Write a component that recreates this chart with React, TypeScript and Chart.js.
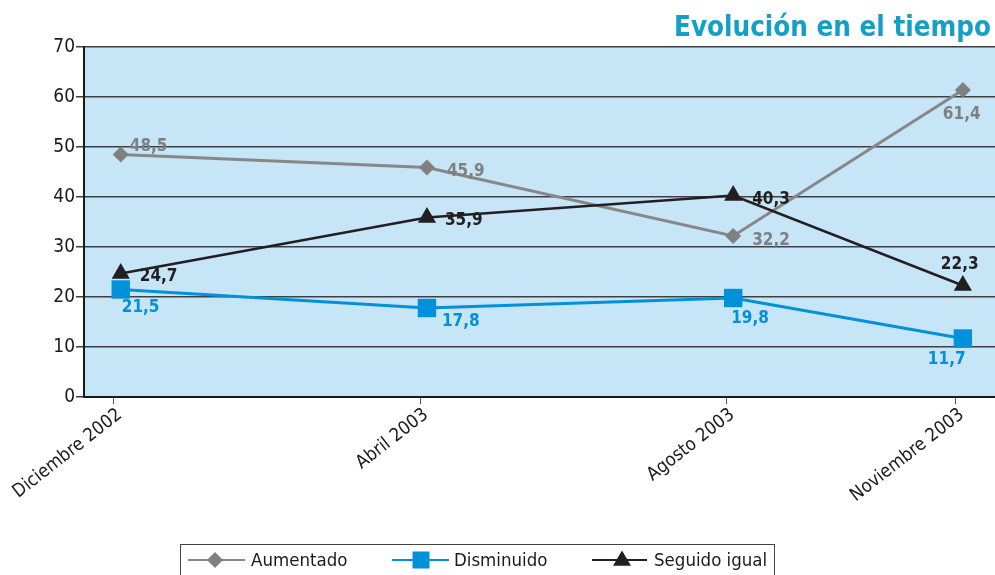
import React, { useEffect, useRef } from "react";
import { Chart, registerables } from "chart.js";

Chart.register(...registerables);

// ---- data ----
const CATEGORIES = ["Diciembre 2002", "Abril 2003", "Agosto 2003", "Noviembre 2003"];
const MONTH_INDEX = [0, 4, 8, 11]; // months since Dec 2002
const AUMENTADO = [48.5, 45.9, 32.2, 61.4];
const DISMINUIDO = [21.5, 17.8, 19.8, 11.7];
const SEGUIDO_IGUAL = [24.7, 35.9, 40.3, 22.3];
const Y_TICKS = [0, 10, 20, 30, 40, 50, 60, 70];
const SERIES_NAMES = ["Aumentado", "Disminuido", "Seguido igual"];
const TITLE = "Evolución en el tiempo";

// ---- styles ----
const GRAY = "#878787";
const BLUE = "#0091da";
const BLACK = "#231f20";
const TEAL = "#139fc7";
const PLOT_BG = "#c6e5f7";
const TICK_SHIFT = 0.09;
const COND = "'DejaVu Sans Condensed', 'DejaVu Sans', sans-serif";

// label offsets [dx, dy] relative to each point
const LABEL_OFFSETS = [
  [[9, -8], [20, 4], [19, 5], [-20, 25]],
  [[1, 18], [15, 14], [-2, 21], [-35, 21]],
  [[19, 3], [18, 3], [19, 4], [-22, -21]],
];

const LEGEND_BOX = { x: 180.5, y: 544.5, w: 594, h: 60 };
const LEGEND_ITEMS = [
  { x0: 188, x1: 245, mx: 215, tx: 251 },
  { x0: 392, x1: 449, mx: 421, tx: 454 },
  { x0: 592, x1: 647, mx: 622, tx: 654 },
];
const LEGEND_Y = 560;

function drawMarker(ctx: CanvasRenderingContext2D, style: string, x: number, y: number, color: string) {
  ctx.save();
  ctx.fillStyle = color;
  ctx.beginPath();
  if (style === "rectRot") {
    const r = 8;
    ctx.moveTo(x - r, y);
    ctx.lineTo(x, y - r);
    ctx.lineTo(x + r, y);
    ctx.lineTo(x, y + r);
  } else if (style === "rect") {
    const s = 8.5;
    ctx.rect(x - s, y - s, 2 * s, 2 * s);
  } else {
    const r = 9.5;
    ctx.moveTo(x, y - r);
    ctx.lineTo(x + r * 0.95, y + r * 0.6);
    ctx.lineTo(x - r * 0.95, y + r * 0.6);
  }
  ctx.closePath();
  ctx.fill();
  ctx.restore();
}

const bgPlugin = {
  id: "plotBg",
  beforeDraw(chart: any) {
    const { ctx, chartArea } = chart;
    ctx.save();
    ctx.fillStyle = PLOT_BG;
    ctx.fillRect(chartArea.left, chartArea.top, chartArea.right - chartArea.left, chartArea.bottom - chartArea.top);
    ctx.restore();
  },
};

const labelsPlugin = {
  id: "valueLabels",
  afterDatasetsDraw(chart: any) {
    const { ctx } = chart;
    ctx.save();
    ctx.font = `bold 17px ${COND}`;
    ctx.textAlign = "left";
    ctx.textBaseline = "middle";
    chart.data.datasets.forEach((ds: any, di: number) => {
      const meta = chart.getDatasetMeta(di);
      ctx.fillStyle = ds.labelColor;
      meta.data.forEach((pt: any, i: number) => {
        const v = ds.data[i].y;
        const [dx, dy] = LABEL_OFFSETS[di][i];
        ctx.fillText(String(v).replace(".", ","), pt.x + dx, pt.y + dy);
      });
    });
    ctx.restore();
  },
};

const decorPlugin = {
  id: "decor",
  afterDraw(chart: any) {
    const { ctx } = chart;
    ctx.save();
    // title
    ctx.font = `bold 27.5px ${COND}`;
    ctx.fillStyle = TEAL;
    ctx.textAlign = "right";
    ctx.textBaseline = "alphabetic";
    ctx.fillText(TITLE, 991, 36);
    // legend
    ctx.strokeStyle = "#444";
    ctx.lineWidth = 1;
    ctx.strokeRect(LEGEND_BOX.x, LEGEND_BOX.y, LEGEND_BOX.w, LEGEND_BOX.h);
    ctx.font = `18.5px ${COND}`;
    ctx.textAlign = "left";
    ctx.textBaseline = "middle";
    chart.data.datasets.forEach((ds: any, i: number) => {
      const it = LEGEND_ITEMS[i];
      ctx.strokeStyle = ds.borderColor;
      ctx.lineWidth = 2;
      ctx.beginPath();
      ctx.moveTo(it.x0, LEGEND_Y);
      ctx.lineTo(it.x1, LEGEND_Y);
      ctx.stroke();
      drawMarker(ctx, ds.pointStyle, it.mx, LEGEND_Y, ds.pointBackgroundColor);
      ctx.fillStyle = "#1a1a1a";
      ctx.fillText(SERIES_NAMES[i], it.tx, LEGEND_Y + 1);
    });
    ctx.restore();
  },
};

export default function App() {
  const ref = useRef<HTMLCanvasElement | null>(null);
  useEffect(() => {
    if (!ref.current) return;
    const toPts = (vals: number[]) => vals.map((y, i) => ({ x: MONTH_INDEX[i], y }));
    const chart = new Chart(ref.current, {
      type: "line",
      data: {
        datasets: [
          {
            label: SERIES_NAMES[0],
            data: toPts(AUMENTADO),
            borderColor: GRAY,
            borderWidth: 3,
            pointStyle: "rectRot",
            pointRadius: 8,
            pointBackgroundColor: "#808080",
            pointBorderWidth: 0,
            labelColor: "#808080",
            order: 2,
          } as any,
          {
            label: SERIES_NAMES[1],
            data: toPts(DISMINUIDO),
            borderColor: BLUE,
            borderWidth: 3,
            pointStyle: "rect",
            pointRadius: 13,
            pointBackgroundColor: BLUE,
            pointBorderWidth: 0,
            labelColor: BLUE,
            order: 1,
          } as any,
          {
            label: SERIES_NAMES[2],
            data: toPts(SEGUIDO_IGUAL),
            borderColor: BLACK,
            borderWidth: 2.5,
            pointStyle: "triangle",
            pointRadius: 10.5,
            pointBackgroundColor: BLACK,
            pointBorderWidth: 0,
            labelColor: BLACK,
            order: 0,
          } as any,
        ],
      },
      options: {
        animation: false,
        responsive: false,
        devicePixelRatio: 1,
        layout: { autoPadding: false, padding: { top: 47, left: 0, right: 0, bottom: 0 } },
        plugins: { legend: { display: false }, title: { display: false }, tooltip: { enabled: false } },
        scales: {
          x: {
            type: "linear",
            position: "bottom",
            min: -0.48,
            max: 11.42,
            afterBuildTicks: (s: any) => {
              s.ticks = MONTH_INDEX.map((m) => ({ value: m - TICK_SHIFT }));
            },
            afterFit: (s: any) => {
              s.height = 178;
              s.paddingLeft = 0;
              s.paddingRight = 0;
            },
            ticks: {
              autoSkip: false,
              minRotation: 38,
              maxRotation: 38,
              padding: 0,
              labelOffset: 6,
              color: "#1a1a1a",
              font: { family: COND, size: 18.5 },
              callback: (_v: any, i: number) => CATEGORIES[i],
            },
            grid: { drawOnChartArea: false, drawTicks: true, tickLength: 7, color: "#555", lineWidth: 1 },
            border: { color: "#1a1a1a", width: 2 },
          },
          y: {
            min: 0,
            max: 70,
            afterBuildTicks: (s: any) => {
              s.ticks = Y_TICKS.map((v) => ({ value: v }));
            },
            afterFit: (s: any) => {
              s.width = 84;
            },
            ticks: {
              padding: 1,
              color: "#1a1a1a",
              font: { family: COND, size: 19 },
            },
            grid: { color: "#3f3f3f", lineWidth: 1.5, tickLength: 8, drawTicks: true },
            border: { color: "#1a1a1a", width: 2 },
          },
        },
      },
      plugins: [bgPlugin, labelsPlugin, decorPlugin],
    } as any);
    return () => chart.destroy();
  }, []);
  return (
    <canvas
      ref={ref}
      width={995}
      height={575}
      style={{ position: "absolute", left: 0, top: 0, display: "block" }}
    />
  );
}
